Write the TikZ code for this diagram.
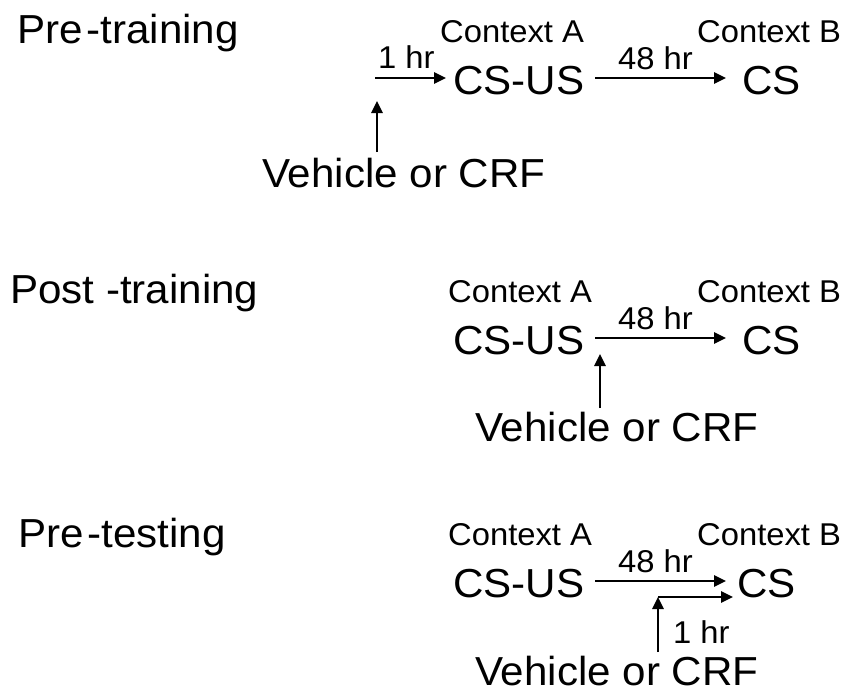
\documentclass[tikz,border=0pt]{standalone}
\usepackage{fontspec}
\setmainfont{Liberation Sans}
\newfontfamily\bigf[FakeStretch=1.04]{Liberation Sans}
\newfontfamily\smallf[FakeStretch=1.04]{Liberation Sans}
\usetikzlibrary{arrows.meta}
\begin{document}
\begin{tikzpicture}[x=1pt,y=-1pt,
  big/.style={inner sep=0pt,anchor=base west,font=\bigf\fontsize{40.5}{48}\selectfont},
  small/.style={inner sep=0pt,anchor=base west,font=\smallf\fontsize{31.5}{38}\selectfont},
  arr/.style={line width=2.6pt,-{Triangle[length=12pt,width=11pt]}}]
\useasboundingbox[fill=white] (0,0) rectangle (848,694);
% Row 1
\node[big] (t1) at (17,43) {Pre\kern4pt-training};
\node[small] (ca1) at (440,42) {Context A};
\node[small] (cb1) at (697,42) {Context B};
\node[big] (csus1) at (453,94) {CS-US};
\node[big] (cs1) at (742,94) {CS};
\node[big] (v1) at (262,187) {Vehicle or CRF};
\node[small] (h1) at (378,68) {1 hr};
\node[small] (h48a) at (618,69) {48 hr};
\coordinate (a1s) at (375,78);
\coordinate (a1e) at (446,78);
\coordinate (b1s) at (595,78);
\coordinate (b1e) at (726,78);
\coordinate (v1s) at (377,152);
\coordinate (v1e) at (377,101);
\draw[arr] (a1s) -- (a1e);
\draw[arr] (b1s) -- (b1e);
\draw[arr] (v1s) -- (v1e);
% Row 2
\node[big] (t2) at (10,303) {Post -training};
\node[small] (ca2) at (448,302) {Context A};
\node[small] (cb2) at (697,302) {Context B};
\node[big] (csus2) at (453,354) {CS-US};
\node[big] (cs2) at (742,354) {CS};
\node[big] (v2) at (475,441) {Vehicle or CRF};
\node[small] (h48b) at (618,329) {48 hr};
\coordinate (b2s) at (595,338);
\coordinate (b2e) at (726,338);
\coordinate (v2s) at (600,408);
\coordinate (v2e) at (600,354);
\draw[arr] (b2s) -- (b2e);
\draw[arr] (v2s) -- (v2e);
% Row 3
\node[big] (t3) at (18,547) {Pre\kern4pt-testing};
\node[small] (ca3) at (448,545) {Context A};
\node[small] (cb3) at (697,545) {Context B};
\node[big] (csus3) at (453,597) {CS-US};
\node[big] (cs3) at (737,597) {CS};
\node[big] (v3) at (475,685) {Vehicle or CRF};
\node[small] (h48c) at (618,572) {48 hr};
\node[small] (h3) at (673,643) {1 hr};
\coordinate (b3s) at (595,581);
\coordinate (b3e) at (726,581);
\coordinate (c3) at (658,597);
\coordinate (c3e) at (733,597);
\coordinate (v3s) at (658,652);
\draw[arr] (b3s) -- (b3e);
\draw[arr] (v3s) -- (c3);
\draw[arr] (c3) -- (c3e);
\end{tikzpicture}
\end{document}
